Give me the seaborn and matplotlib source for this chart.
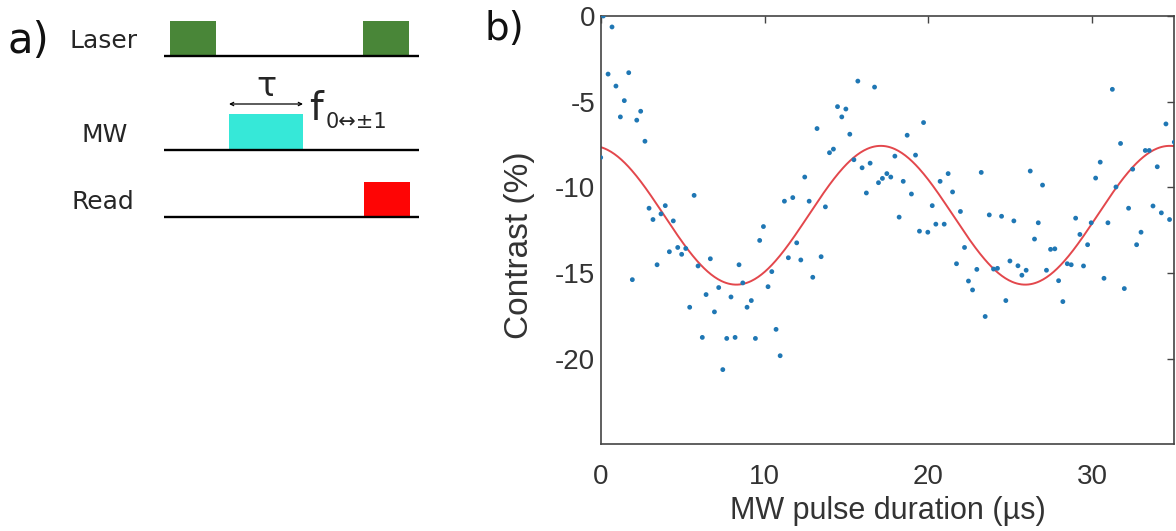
import numpy as np
import pandas as pd
import matplotlib.pyplot as plt
import seaborn as sns
from matplotlib.patches import Rectangle

pulse_us = [
    0.0, 0.16, 0.45, 0.69, 0.93, 1.2, 1.44, 1.71, 1.93, 2.2, 2.44, 2.7, 2.95, 3.19, 3.44, 3.68,
    3.94, 4.19, 4.43, 4.7, 4.94, 5.19, 5.43, 5.7, 5.94, 6.2, 6.43, 6.69, 6.94, 7.2, 7.45, 7.69,
    7.95, 8.2, 8.44, 8.67, 8.93, 9.19, 9.44, 9.7, 9.93, 10.21, 10.44, 10.7, 10.95, 11.21, 11.45,
    11.72, 11.96, 12.21, 12.45, 12.72, 12.94, 13.2, 13.45, 13.71, 13.96, 14.2, 14.45, 14.71,
    14.96, 15.2, 15.45, 15.69, 15.95, 16.21, 16.44, 16.71, 16.95, 17.19, 17.46, 17.7, 17.95,
    18.21, 18.46, 18.7, 18.96, 19.21, 19.45, 19.7, 19.96, 20.23, 20.45, 20.71, 20.96, 21.2,
    21.47, 21.71, 21.95, 22.2, 22.44, 22.69, 22.95, 23.22, 23.46, 23.71, 23.97, 24.21, 24.46,
    24.72, 24.97, 25.21, 25.46, 25.7, 25.96, 26.21, 26.47, 26.7, 26.96, 27.2, 27.45, 27.71,
    27.94, 28.2, 28.47, 28.71, 28.98, 29.24, 29.46, 29.71, 29.93, 30.2, 30.48, 30.71, 30.95,
    31.22, 31.44, 31.72, 31.95, 32.21, 32.46, 32.7, 32.97, 33.23, 33.47, 33.7, 33.96, 34.21,
    34.49, 34.71, 35.0,
]
contrast = [
    -8.26, 0.0, -3.39, -0.64, -4.09, -5.89, -4.94, -3.31, -15.39, -6.08, -5.56, -7.31, -11.22,
    -11.88, -14.52, -11.55, -11.07, -13.76, -11.96, -13.51, -13.91, -13.57, -17.0, -10.47,
    -14.59, -18.76, -16.26, -14.17, -17.27, -15.85, -20.64, -18.82, -16.4, -18.76, -14.52,
    -15.58, -17.0, -16.61, -18.82, -13.1, -12.29, -15.8, -14.92, -18.29, -19.83, -10.81,
    -14.11, -10.6, -13.24, -14.24, -9.4, -10.81, -15.25, -6.57, -14.05, -11.14, -7.98, -7.77,
    -5.29, -5.89, -5.43, -6.9, -8.39, -3.8, -8.86, -10.33, -8.59, -4.15, -9.73, -9.48, -9.2,
    -9.4, -8.18, -11.74, -9.65, -6.96, -10.39, -8.12, -12.56, -6.22, -12.62, -11.07, -12.15,
    -9.65, -12.15, -9.2, -10.27, -14.46, -11.41, -13.51, -15.47, -15.99, -14.79, -9.13,
    -17.54, -11.61, -14.77, -14.73, -11.69, -16.61, -14.3, -11.96, -14.58, -15.13, -14.84,
    -9.05, -13.02, -12.07, -9.87, -14.84, -13.62, -13.59, -15.45, -16.67, -14.46, -14.52,
    -11.8, -12.75, -14.59, -13.35, -12.07, -9.46, -8.53, -15.31, -12.07, -4.28, -9.98, -7.44,
    -15.91, -11.22, -8.94, -13.35, -12.62, -7.85, -7.85, -11.09, -8.8, -11.49, -6.3, -11.88,
    -7.36,
]

# sinusoidal fit parameters
fit_offset = -11.63
fit_amplitude = 4.05
fit_period = 17.63
fit_shift = 0.54

x_ticks = [0, 10, 20, 30]
y_ticks = [-20, -15, -10, -5, 0]

df = pd.DataFrame({"pulse": pulse_us, "contrast": contrast})
fit_x = np.linspace(0, 35, 500)
fit_df = pd.DataFrame({
    "pulse": fit_x,
    "contrast": fit_offset + fit_amplitude * np.cos(2 * np.pi * (fit_x + fit_shift) / fit_period),
})

sns.set_theme(style="white")
plt.rcParams["font.family"] = ["Liberation Sans", "DejaVu Sans"]
plt.rcParams["axes.unicode_minus"] = False

W, H = 1176, 531
fig = plt.figure(figsize=(W / 100, H / 100), dpi=100)

# ---- b) Rabi data ----
ax = fig.add_axes([600.7 / W, (H - 444.3) / H, 573.6 / W, 428.3 / H])
sns.scatterplot(data=df, x="pulse", y="contrast", ax=ax, s=12, color="#1f77b4",
                edgecolor="none", zorder=3)
sns.lineplot(data=fit_df, x="pulse", y="contrast", ax=ax, color="#e3474c", linewidth=1.4,
             zorder=2)
ax.set_xlim(0, 35)
ax.set_ylim(-25, 0)
ax.set_xticks(x_ticks)
ax.set_yticks(y_ticks)
ax.tick_params(direction="in", top=True, right=True, length=5, width=1, color="#444444",
               labelsize=20, labelcolor="#333333")
ax.tick_params(axis="x", pad=14)
ax.tick_params(axis="y", pad=4)
for s in ax.spines.values():
    s.set_visible(True)
    s.set_color("#444444")
    s.set_linewidth(1.2)
ax.set_xlabel("MW pulse duration (µs)", fontsize=22, color="#333333")
ax.set_ylabel("Contrast (%)", fontsize=24, color="#333333")
ax.xaxis.set_label_coords(0.5, -0.12)
ax.yaxis.set_label_coords(-0.115, 0.465)

fig.text(485 / W, 1 - 40 / H, "b)", fontsize=28, family="DejaVu Sans", color="#111111",
         va="baseline", ha="left")

# ---- a) pulse sequence ----
ax0 = fig.add_axes([0, 0, 480 / W, 1])
ax0.set_xlim(0, 480)
ax0.set_ylim(H, 0)
ax0.axis("off")

rows = ["Laser", "MW", "Read"]
row_base = [56, 150, 217]
row_label_x = [70, 82, 72]
pulses = [(170, 216, 21, 56, "#498638"), (363, 409, 21, 56, "#498638"),
          (229, 303, 114, 150, "#36e8d8"), (364, 410, 182, 217, "#fe0505")]

for name, yb, lx in zip(rows, row_base, row_label_x):
    ax0.plot([164, 419], [yb, yb], color="black", linewidth=1.7, solid_capstyle="butt")
    ax0.text(lx, yb - 8, name, fontsize=18, family="DejaVu Sans", va="baseline", ha="left")
for x0, x1, y0, y1, c in pulses:
    ax0.add_patch(Rectangle((x0, y0), x1 - x0, y1 - y0, color=c, linewidth=0, zorder=1))

ax0.annotate("", xy=(229, 104), xytext=(303, 104),
             arrowprops=dict(arrowstyle="<->", color="black", lw=0.9, mutation_scale=6,
                             shrinkA=0, shrinkB=0))
ax0.text(266, 96, "τ", fontsize=24, family="DejaVu Sans", ha="center", va="baseline")
ax0.text(309, 120, "f", fontsize=28, family="DejaVu Sans", ha="left", va="baseline")
ax0.text(326, 128, "0↔±1", fontsize=15, family="DejaVu Sans", ha="left", va="baseline")
ax0.text(8, 53, "a)", fontsize=30, family="DejaVu Sans", color="#111111", ha="left",
         va="baseline")

plt.savefig("out.png", dpi=100)
